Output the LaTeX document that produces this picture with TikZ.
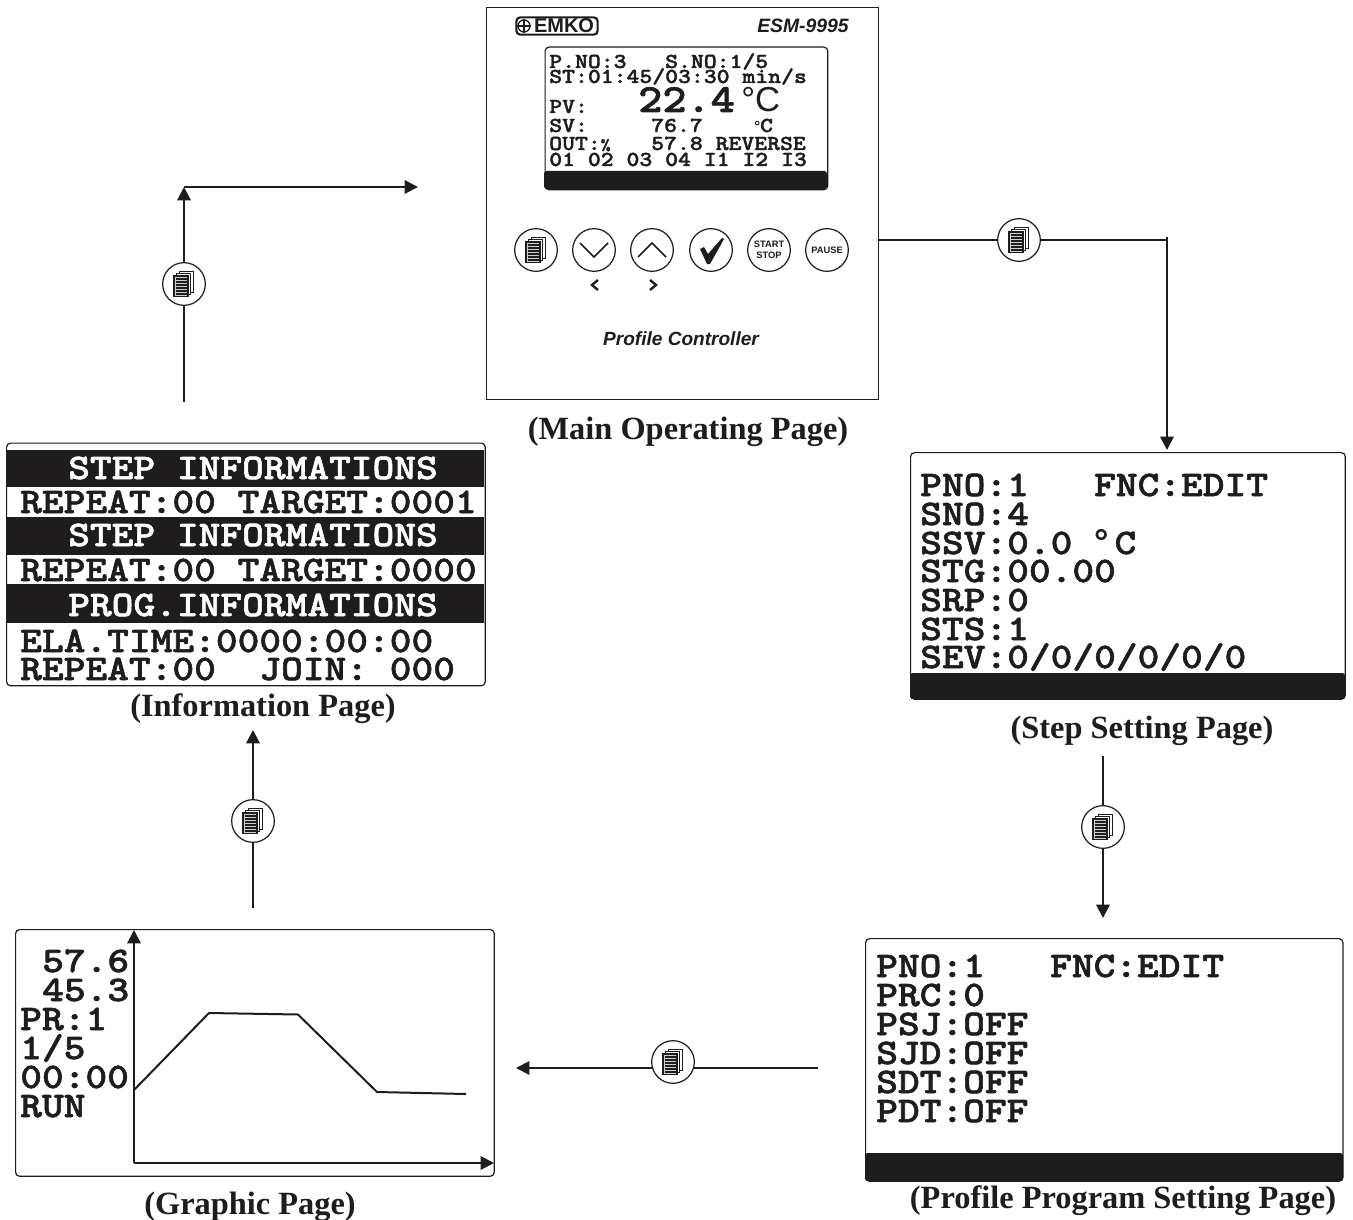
\documentclass[tikz,border=0pt]{standalone}
\usepackage{fontspec}
\setmainfont{Liberation Serif}
\setsansfont{Liberation Sans}
\newfontfamily\lcdfont[FakeStretch=1.15, FakeBold=1.6]{lmmonolt10-bold.otf}
\usetikzlibrary{arrows.meta, positioning, calc}
\definecolor{inkdark}{RGB}{30, 28, 28}
\newcommand{\lcddeg}{{\sffamily\bfseries °}}
\tikzset{
  scr/.style={draw=inkdark, line width=0.9pt, rounded corners=3pt, fill=white, anchor=north west, inner sep=0pt},
  pagecap/.style={font=\bfseries\fontsize{24.3}{24.3}\selectfont, text=inkdark},
  lcd/.style={anchor=base west, inner sep=0pt, font=\lcdfont\fontsize{27}{27}\selectfont, text=inkdark},
  lcds/.style={anchor=base west, inner sep=0pt, font=\lcdfont\fontsize{16}{16}\selectfont, text=inkdark},
  btn/.style={circle, draw=inkdark, line width=0.9pt, fill=white, minimum size=32pt, inner sep=0pt},
  btnt/.style={font=\sffamily\bfseries\fontsize{7}{8}\selectfont, align=center, text=inkdark},
  bar/.style={fill=inkdark, draw=none},
  conn/.style={line width=1.6pt, draw=inkdark},
  arr/.style={conn, -{Triangle[length=10pt, width=10pt]}},
  pics/pagesicon/.style={code={
    \draw[fill=white, line width=.7pt, draw=inkdark] (-5,-12.5) rectangle (9,8);
    \draw[fill=white, line width=.7pt, draw=inkdark] (-7.5,-10.5) rectangle (6.5,10);
    \draw[fill=black!18, line width=.9pt, draw=inkdark] (-10,-8) rectangle (4,12.5);
    \foreach \y in {-5,-2,...,10} {
      \draw[line width=.9pt, draw=inkdark] (-8.5,\y) -- (2.5,\y);
    }
  }}
}
\begin{document}
\begin{tikzpicture}[x=0.75pt, y=-0.75pt]
  \useasboundingbox (0,0) rectangle (1353,1220);

  % main page
  \node[scr, rounded corners=0pt, minimum width=294pt, minimum height=294pt] (main) at (486,7) {};
  \node[font=\sffamily\bfseries\itshape\fontsize{14.5}{14.5}\selectfont, text=inkdark] (model) at (803,26) {ESM-9995};
  \node[draw=inkdark, line width=1.6pt, rounded corners=3pt, minimum width=61pt, minimum height=13pt, inner sep=0pt] (logo) at (557,26) {};
  \node[circle, draw=inkdark, line width=1pt, minimum size=9pt, inner sep=0pt] (logoc) at (524,26) {};
  \draw[line width=.8pt, draw=inkdark] (logoc.west) -- (logoc.east) (logoc.north) -- (logoc.south);
  \node[font=\sffamily\bfseries\fontsize{15}{15}\selectfont, text=inkdark, inner sep=0pt] (logot) at (564,26) {EMKO};
  \node[scr, minimum width=212pt, minimum height=107pt] (lcd0) at (544.5,46.5) {};
  \fill[bar, rounded corners=2pt] (544,171) rectangle (827,189);
  \node[lcds] (m1) at (549,68) {P.NO:3~~~S.NO:1/5};
  \node[lcds] (m2) at (549,83) {ST:01:45/03:30 min/s};
  \node[lcds] (m3) at (549,113) {PV:};
  \node[lcds, font=\lcdfont\fontsize{30}{30}\selectfont] (m4) at (638,112) {22.4};
  \node[lcds, font=\sffamily\fontsize{26}{26}\selectfont] (m5) at (741,112) {°C};
  \node[lcds] (m6) at (549,132) {SV:};
  \node[lcds] (m7) at (651,132) {76.7};
  \node[lcds] (m8) at (754,132) {\fontsize{11}{11}\selectfont\lcddeg\fontsize{16}{16}\selectfont C};
  \node[lcds] (m9) at (549,150) {OUT:\fontsize{12}{12}\selectfont\%};
  \node[lcds] (m10) at (651,150) {57.8 REVERSE};
  \node[lcds] (m11) at (549,166) {01 02 03 04 I1 I2 I3};

  \node[btn] (bset) at (536,250) {};
  \pic at (bset) {pagesicon};
  \node[btn] (bdown) at (594,250) {};
  \draw[line width=1.3pt, draw=inkdark] (580,243) -- (594,257) -- (608,243);
  \node[btn] (bup) at (652,250) {};
  \draw[line width=1.3pt, draw=inkdark] (638,257) -- (652,243) -- (666,257);
  \node[btn] (bok) at (711,250) {};
  \fill[inkdark] (700,249) -- (704,247) -- (708,254) -- (722,238) -- (724,239) -- (710,264) -- (707,264) -- cycle;
  \node[btn, btnt] (bstart) at (769,250) {START\\STOP};
  \node[btn, btnt] (bpause) at (827,250) {PAUSE};
  \draw[line width=1.8pt, draw=inkdark] (598,280) -- (592,285) -- (598,290);
  \draw[line width=1.8pt, draw=inkdark] (650,280) -- (656,285) -- (650,290);
  \node[font=\sffamily\bfseries\itshape\fontsize{14.3}{14.3}\selectfont, text=inkdark] (prof) at (681,339) {Profile Controller};
  \node[pagecap] (capmain) at (688,432) {(Main Operating Page)};

  % step page
  \node[scr, minimum width=326pt, minimum height=185pt] (step) at (910,452) {};
  \fill[bar, rounded corners=2pt] (910,673) rectangle (1345,699);
  \node[lcd] (s1) at (920,496) {PNO:1~~~FNC:EDIT};
  \node[lcd] (s2) at (920,525) {SNO:4};
  \node[lcd] (s3) at (920,554) {SSV:0.0 \lcddeg\,C};
  \node[lcd] (s4) at (920,582) {STG:00.00};
  \node[lcd] (s5) at (920,611) {SRP:0};
  \node[lcd] (s6) at (920,640) {STS:1};
  \node[lcd] (s7) at (920,668) {SEV:0/0/0/0/0/0};
  \node[pagecap] (capstep) at (1142,731) {(Step Setting Page)};

  % profile page
  \node[scr, minimum width=358pt, minimum height=182pt] (prog) at (865,938) {};
  \fill[bar, rounded corners=2pt] (865,1153) rectangle (1343,1181);
  \node[lcd] (p1) at (876,977) {PNO:1~~~FNC:EDIT};
  \node[lcd] (p2) at (876,1006) {PRC:0};
  \node[lcd] (p3) at (876,1035) {PSJ:OFF};
  \node[lcd] (p4) at (876,1064) {SJD:OFF};
  \node[lcd] (p5) at (876,1093) {SDT:OFF};
  \node[lcd] (p6) at (876,1122) {PDT:OFF};
  \node[pagecap] (capprog) at (1123,1201) {(Profile Program Setting Page)};

  % graphic page
  \node[scr, minimum width=359pt, minimum height=185pt] (graph) at (15,929) {};
  \node[lcd] (g1) at (42,972) {57.6};
  \node[lcd] (g2) at (42,1001) {45.3};
  \node[lcd] (g3) at (20,1030) {PR:1};
  \node[lcd] (g4) at (20,1059) {1/5};
  \node[lcd] (g5) at (20,1088) {00:00};
  \node[lcd] (g6) at (20,1117) {RUN};
  \coordinate (org) at (134,1163);
  \coordinate (ytop) at (134,930);
  \coordinate (xend) at (494,1163);
  \draw[arr] (org) -- (ytop);
  \draw[arr] (org) -- (xend);
  \draw[line width=1.5pt, draw=inkdark] (134,1090) -- (209,1013) -- (298,1014.5) -- (377,1092) -- (466,1094);
  \node[pagecap] (capgraph) at (250,1207) {(Graphic Page)};

  % information page
  \node[scr, minimum width=359pt, minimum height=182pt] (info) at (6,442.5) {};
  \fill[bar] (7,450) rectangle (484,487);
  \fill[bar] (7,517) rectangle (484,555);
  \fill[bar] (7,584) rectangle (484,623);
  \node[lcd, text=white] (i1) at (68,479) {STEP INFORMATIONS};
  \node[lcd] (i2) at (20,513) {REPEAT:00 TARGET:0001};
  \node[lcd, text=white] (i3) at (68,546) {STEP INFORMATIONS};
  \node[lcd] (i4) at (20,581) {REPEAT:00 TARGET:0000};
  \node[lcd, text=white] (i5) at (68,616) {PROG.INFORMATIONS};
  \node[lcd] (i6) at (20,652) {ELA.TIME:0000:00:00};
  \node[lcd] (i7) at (20,680) {REPEAT:00~~JOIN: 000};
  \node[pagecap] (capinfo) at (263,709) {(Information Page)};

  % connectors
  \coordinate (c1a) at (878,240);
  \coordinate (c1b) at (1167,237);
  \coordinate (c1c) at (1167,450);
  \node[btn] (k1) at (1019,240) {};
  \draw[conn] (c1a) -- (k1);
  \draw[conn] (k1) -- (k1 -| c1b);
  \draw[arr] (c1b) -- (c1c);
  \pic at (k1) {pagesicon};

  \coordinate (c2a) at (1103,756);
  \coordinate (c2b) at (1103,918);
  \node[btn] (k2) at (1103,827) {};
  \draw[conn] (c2a) -- (k2);
  \draw[arr] (k2) -- (c2b);
  \pic at (k2) {pagesicon};

  \coordinate (c3a) at (818,1068);
  \coordinate (c3b) at (516,1068);
  \draw[arr] (c3a) -- (c3b);
  \node[btn] (k3) at (673,1062) {};
  \pic at (k3) {pagesicon};

  \coordinate (c4a) at (253,908);
  \coordinate (c4b) at (253,730);
  \node[btn] (k4) at (253,821) {};
  \draw[conn] (c4a) -- (k4);
  \draw[arr] (k4) -- (c4b);
  \pic at (k4) {pagesicon};

  \coordinate (c5a) at (184,402);
  \coordinate (c5b) at (184,187);
  \coordinate (c5c) at (418,187);
  \node[btn] (k5) at (184,284) {};
  \draw[conn] (c5a) -- (k5);
  \draw[arr] (k5) -- (c5b);
  \draw[arr] (c5b) -- (c5c);
  \pic at (k5) {pagesicon};
\end{tikzpicture}
\end{document}
